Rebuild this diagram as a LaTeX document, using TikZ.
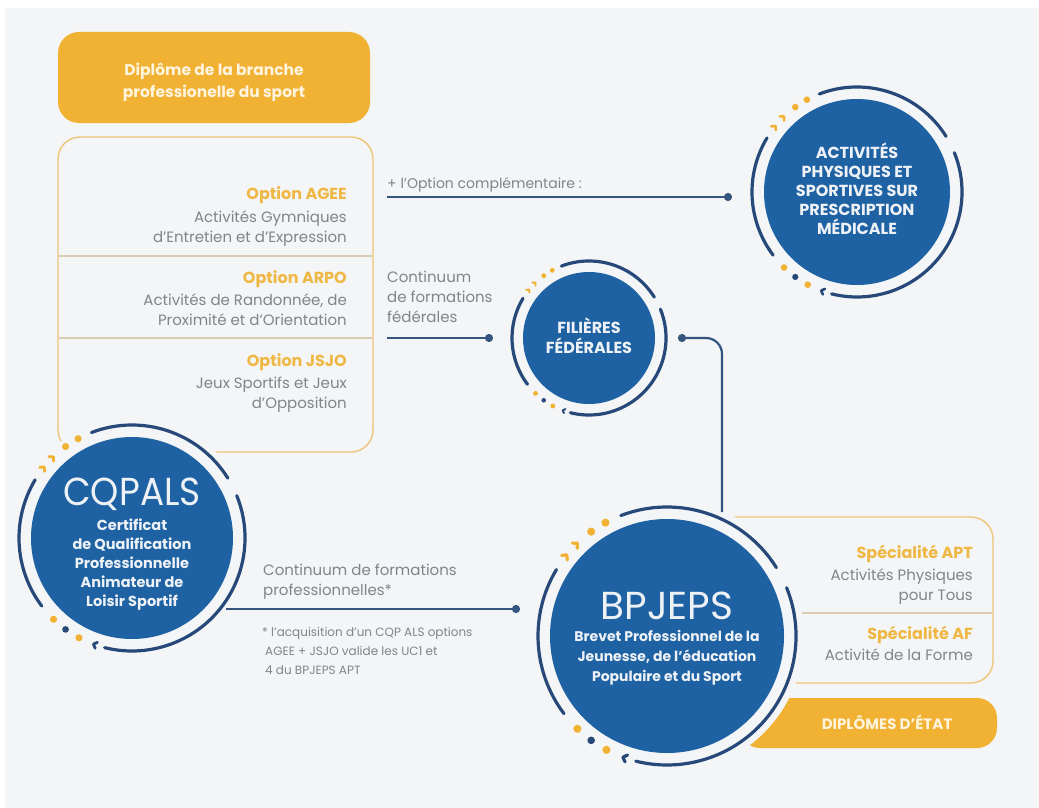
\documentclass[tikz,border=0pt]{standalone}
\usepackage{fontspec}
\setmainfont{Poppins}
\usetikzlibrary{arrows.meta,calc}
\definecolor{bg}{HTML}{F3F5F6}
\definecolor{org}{HTML}{F1B133}
\definecolor{orgtxt}{HTML}{EFB743}
\definecolor{orgline}{HTML}{EEC57A}
\definecolor{divline}{HTML}{D9CCB2}
\definecolor{diskc}{HTML}{1E62A3}
\definecolor{ringc}{HTML}{27497A}
\definecolor{connc}{HTML}{34557F}
\definecolor{gtxt}{HTML}{80858A}
\definecolor{wtxt}{HTML}{EEF2F6}
\definecolor{cream}{HTML}{FFF4DE}
\newcommand\fs[2]{\fontsize{#1}{#2}\selectfont}
\newcommand\badgering[2]{%
  \begin{scope}[shift={(#1)}]
    \pgfmathsetmacro\bs{#2/105}
    \draw[ringline] (149:#2pt) arc[start angle=149,end angle=217,radius=#2pt];
    \draw[ringline] (111:#2pt) arc[start angle=111,end angle=32,radius=#2pt];
    \draw[ringline] (22:#2pt) arc[start angle=22,end angle=-104,radius=#2pt];
    \foreach \a in {126,118.5,226,242}{\fill[org] (\a:#2pt) circle[radius=\bs*3.3pt];}
    \fill[ringc] (234:#2pt) circle[radius=\bs*3.1pt];
    \foreach \a in {141,134}{\draw[chev,org,line width=\bs*2.6pt] (\a:#2pt) ++(\a+135:\bs*4.2pt) -- (\a:#2pt) -- ++(\a+45:\bs*4.2pt);}
    \draw[chev,ringc,line width=\bs*2.6pt] (250:#2pt) ++(250+135:\bs*4.2pt) -- (250:#2pt) -- ++(250+45:\bs*4.2pt);
  \end{scope}}
\begin{document}
\begin{tikzpicture}[x=1pt,y=-1pt,
  ringline/.style={draw=ringc,line width=3.2pt,line cap=round},
  chev/.style={line cap=round,line join=round},
  orangebox/.style={fill=org,rounded corners=21pt,inner sep=0pt},
  outlinebox/.style={draw=orgline,line width=1.4pt,rounded corners=22pt,inner sep=0pt},
  divider/.style={draw=divline,line width=1.2pt},
  disk/.style={circle,fill=diskc,inner sep=0pt},
  lbl/.style={inner sep=0pt,text=gtxt,font=\fs{15}{18}},
  small/.style={inner sep=0pt,text=gtxt,font=\fs{12}{14}},
  optT/.style={inner sep=0pt,text=orgtxt,font=\bfseries\fs{16}{18}},
  ctxt/.style={inner sep=0pt,text=wtxt,font=\bfseries\fs{16}{18}},
  csub/.style={inner sep=0pt,text=wtxt,font=\bfseries\fs{14.5}{17}},
  big/.style={inner sep=0pt,text=wtxt,font=\fs{39}{40}},
  conn/.style={draw=connc,line width=2.2pt,-{Circle[length=8pt]}},
]
\useasboundingbox (0,0) rectangle (1039,808);
\fill[white] (0,0) rectangle (1039,808);
\fill[bg] (5,8) rectangle (1039,808);

% centres
\coordinate (c-act) at (857,192);
\coordinate (c-fil) at (589,338);
\coordinate (c-cqp) at (132,538);
\coordinate (c-bp) at (667,636);

% header box
\node[orangebox,minimum width=312pt,minimum height=91pt] (head) at (214,77.5) {};
\node[inner sep=0pt,text=cream,font=\bfseries\fs{15.5}{18},anchor=base] (head1) at (214,75) {Diplôme de la branche};
\node[inner sep=0pt,text=cream,font=\bfseries\fs{15.5}{18},anchor=base] (head2) at (214,97) {professionelle du sport};

% options box
\node[outlinebox,minimum width=315pt,minimum height=315pt] (opt) at (215.5,294.5) {};
\draw[divider] (58.7,256) -- (372.3,256);
\draw[divider] (58.7,338) -- (372.3,338);
\node[optT,anchor=base east] (o1) at (347,199) {Option AGEE};
\node[lbl,anchor=base east] (o1a) at (347,222) {Activités Gymniques};
\node[lbl,anchor=base east] (o1b) at (347,242) {d’Entretien et d’Expression};
\node[optT,anchor=base east] (o2) at (347,283) {Option ARPO};
\node[lbl,anchor=base east] (o2a) at (347,305) {Activités de Randonnée, de};
\node[lbl,anchor=base east] (o2b) at (347,325) {Proximité et d’Orientation};
\node[optT,anchor=base east] (o3) at (347,366) {Option JSJO};
\node[lbl,anchor=base east] (o3a) at (347,388) {Jeux Sportifs et Jeux};
\node[lbl,anchor=base east] (o3b) at (347,408) {d’Opposition};

% speciality box and state diploma box
\node[outlinebox,minimum width=293pt,minimum height=166pt] (spec) at (846.5,600) {};
\draw[divider] (760,613) -- (992.3,613);
\node[orangebox,minimum width=257pt,minimum height=50pt,rounded corners=20pt] (de) at (868.5,723) {};

% masks
\fill[bg] (c-cqp) circle[radius=120pt];
\fill[bg] (c-bp) circle[radius=137pt];
\fill[bg] (c-fil) circle[radius=84pt];
\fill[bg] (c-act) circle[radius=112pt];

% speciality texts
\node[optT,anchor=base east] (s1) at (973,558) {Spécialité APT};
\node[lbl,anchor=base east] (s1a) at (973,580) {Activités Physiques};
\node[lbl,anchor=base east] (s1b) at (973,600) {pour Tous};
\node[optT,anchor=base east] (s2) at (973,639) {Spécialité AF};
\node[lbl,anchor=base east] (s2a) at (973,660) {Activité de la Forme};
\node[inner sep=0pt,text=cream,font=\bfseries\fs{15}{18},anchor=base] (de1) at (887,729) {DIPLÔMES D’ÉTAT};

% disks
\node[disk,minimum size=186pt] (act) at (c-act) {};
\node[disk,minimum size=132pt] (fil) at (c-fil) {};
\node[disk,minimum size=202pt] (cqp) at (c-cqp) {};
\node[disk,minimum size=234pt] (bp) at (c-bp) {};

% rings
\badgering{c-act}{105}
\badgering{c-fil}{77}
\badgering{c-cqp}{113}
\badgering{c-bp}{129}

% circle texts
\node[ctxt,anchor=base] (a1) at (857,158) {ACTIVITÉS};
\node[ctxt,anchor=base] (a2) at (857,177) {PHYSIQUES ET};
\node[ctxt,anchor=base] (a3) at (857,196) {SPORTIVES SUR};
\node[ctxt,anchor=base] (a4) at (857,215) {PRESCRIPTION};
\node[ctxt,anchor=base] (a5) at (857,234) {MÉDICALE};
\node[ctxt,anchor=base] (f1) at (589,333) {FILIÈRES};
\node[ctxt,anchor=base] (f2) at (589,353) {FÉDÉRALES};
\node[big,anchor=base] (q0) at (132,505) {\scalebox{0.92}[1]{CQPALS}};
\node[csub,anchor=base] (q1) at (132,530) {Certificat};
\node[csub,anchor=base] (q2) at (132,549) {de Qualification};
\node[csub,anchor=base] (q3) at (132,568) {Professionnelle};
\node[csub,anchor=base] (q4) at (132,587) {Animateur de};
\node[csub,anchor=base] (q5) at (132,606) {Loisir Sportif};
\node[big,anchor=base] (b0) at (667,619) {BPJEPS};
\node[csub,anchor=base,font=\bfseries\fs{14}{17}] (b1) at (667,641) {Brevet Professionnel de la};
\node[csub,anchor=base,font=\bfseries\fs{14}{17}] (b2) at (667,661) {Jeunesse, de l’éducation};
\node[csub,anchor=base,font=\bfseries\fs{14}{17}] (b3) at (667,681) {Populaire et du Sport};

% connector end points
\coordinate (opt-out1) at (387,197);
\coordinate (act-in) at (732,197);
\coordinate (opt-out2) at (387,338);
\coordinate (fil-in) at (493,338);
\coordinate (bp-out) at (722,512);
\coordinate (fil-in2) at (678,338);
\coordinate (cqp-out) at (226,609);
\coordinate (bp-in) at (520,609);

\draw[conn] (opt-out1) -- (act-in);
\draw[conn] (opt-out2) -- (fil-in);
\draw[conn,rounded corners=16pt] (bp-out) |- (fil-in2);
\draw[conn] (cqp-out) -- (bp-in);

% connector labels
\node[lbl,anchor=base west,font=\fs{14}{16}] (l1) at (387,188) {+ l’Option complémentaire :};
\node[lbl,anchor=base west] (l2a) at (387,282) {Continuum};
\node[lbl,anchor=base west] (l2b) at (387,302) {de formations};
\node[lbl,anchor=base west] (l2c) at (387,322) {fédérales};
\node[lbl,anchor=base west] (l3a) at (263,575) {Continuum de formations};
\node[lbl,anchor=base west] (l3b) at (263,595) {professionnelles*};
\node[small,anchor=base west] (n1) at (262,636) {* l’acquisition d’un CQP ALS options};
\node[small,anchor=base west] (n2) at (265,655) {AGEE + JSJO valide les UC1 et};
\node[small,anchor=base west] (n3) at (265,674) {4 du BPJEPS APT};
\end{tikzpicture}
\end{document}
